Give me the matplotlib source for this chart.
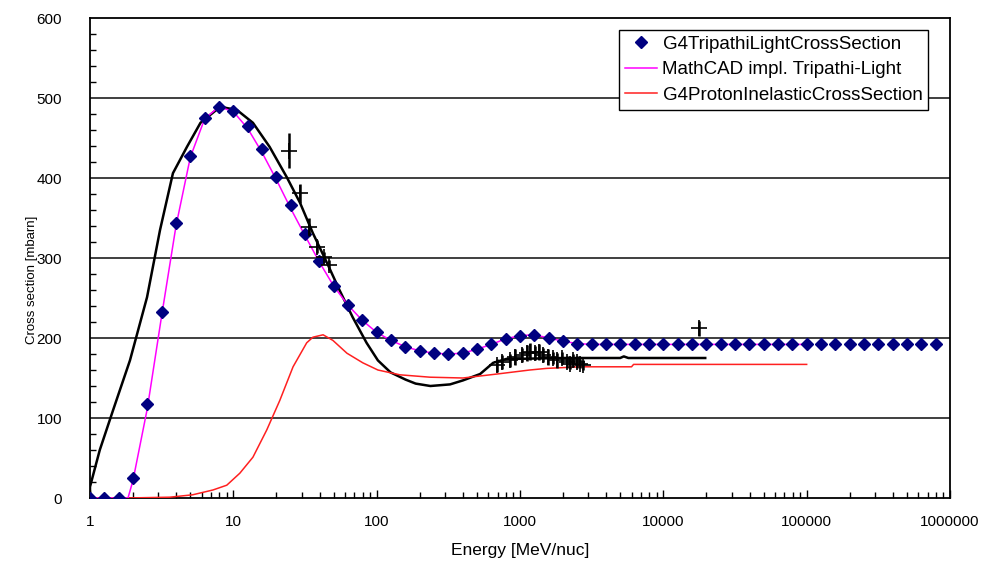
import numpy as np
import matplotlib.pyplot as plt
from matplotlib.ticker import MultipleLocator, LogLocator, NullFormatter, FixedLocator, FixedFormatter

plt.rcParams['font.family'] = ['Liberation Sans', 'DejaVu Sans']

# G4TripathiLightCrossSection, sampled every 0.1 decade from 1 MeV/nuc
trip_logE = [k / 10 for k in range(60)]
trip_xs = [0, 0, 0, 25, 117, 232, 344, 428, 475, 489,
           484, 465, 436, 401, 366, 330, 296, 265, 241, 222,
           207, 197, 189, 184, 181, 180, 181, 186, 192, 199,
           203, 204, 200, 196, 193, 192, 192, 192, 192, 192,
           192, 192, 192, 192, 192, 192, 192, 192, 192, 192,
           192, 192, 192, 192, 192, 192, 192, 192, 192, 192]

# MathCAD implementation of Tripathi-Light (onset point, then 0.1 decade grid)
mcad_logE = [0.0, 0.1, 0.2, 0.265] + [k / 10 for k in range(3, 51)]
mcad_xs = [0, 0, 0, 0, 22, 112, 228, 340, 426, 474, 489,
           483, 462, 432, 398, 362, 328, 295, 265, 241, 222,
           207, 197, 189, 184, 181, 180, 181, 186, 192, 199,
           203, 204, 200, 196, 193, 192, 192, 192, 192, 192,
           192, 192, 192, 192, 192, 192, 192, 192, 192, 192, 192]

# second model curve (black)
blk_E = [1.0, 1.0, 1.17, 1.45, 1.9, 2.5, 3.08, 3.79, 4.75, 5.9, 8.1, 10.6,
         13.7, 17.9, 23.6, 29.2, 35.9, 45, 55, 68, 85, 102, 125, 159, 187,
         237, 325, 400, 527, 650, 810, 1000, 2000, 5000, 5300, 5700, 10000,
         19600]
blk_xs = [0, 14, 60, 110, 172, 251, 335, 406, 439, 469, 489, 485,
          469, 439, 401, 369, 331, 294, 260, 226, 194, 172, 157, 148, 143,
          140, 142, 147, 155, 169, 174, 174, 175, 175, 177, 175, 175,
          175]

# G4ProtonInelasticCrossSection
red_E = [1.0, 1.81, 3.6, 5.2, 7.2, 9.0, 11.1, 13.7, 17.1, 21.1, 26.1, 32.5,
         35.9, 42.3, 49.5, 62, 80, 102, 145, 236, 400, 693, 1170, 1530,
         2630, 6000, 6200, 100000]
red_xs = [0, 0, 1, 4, 10, 16, 31, 51, 85, 122, 164, 194,
          201, 204, 197, 181, 169, 160, 154, 151, 150, 155, 160, 162,
          164, 164, 167, 167]

# measured points with error bars
exp_E = [24.5, 29.2, 33.8, 38.4, 43, 46.5, 693, 750, 853, 925, 1035, 1120,
         1175, 1274, 1350, 1450, 1570, 1700, 1820, 1960, 2130, 2230, 2350,
         2500, 2640, 2760, 17800]
exp_xs = [434, 381, 339, 314, 301, 291, 166, 170, 172, 176, 179, 181, 183,
          181, 182, 179, 176, 175, 172, 175, 170, 168, 172, 170, 168, 166,
          212]
exp_err = [22, 12, 11, 8, 6, 6, 8, 9, 8, 10, 9, 10, 11, 9, 10, 9, 10, 8,
           9, 8, 8, 7, 8, 7, 6, 6, 9]

fig = plt.figure(figsize=(9.85, 5.64), dpi=100)
ax = fig.add_axes([90 / 985, 1 - 498 / 564, 860 / 985, 480 / 564])

for yv in [100, 200, 300, 400, 500]:
    ax.axhline(yv, color='#303030', lw=1.3, zorder=1)

ax.plot(blk_E, blk_xs, color='black', lw=1.8, zorder=3)
ax.plot(red_E, red_xs, color='#ff2020', lw=1.1, zorder=3,
        label='G4ProtonInelasticCrossSection')
ax.plot(10 ** np.array(mcad_logE), mcad_xs, color='#ff00ff', lw=1.1, zorder=4,
        label='MathCAD impl. Tripathi-Light')
ax.plot(10 ** np.array(trip_logE), trip_xs, ls='none', marker='D',
        ms=6, color='#000080', zorder=5, label='G4TripathiLightCrossSection')
ax.errorbar(exp_E, exp_xs, yerr=exp_err, fmt='+', color='black', ms=12,
            mew=1.2, elinewidth=1.8, capsize=0, zorder=6)

ax.set_xscale('log')
ax.set_xlim(1, 1e6)
ax.set_ylim(0, 600)

ax.xaxis.set_major_locator(FixedLocator([1, 10, 100, 1000, 1e4, 1e5, 1e6]))
ax.xaxis.set_major_formatter(FixedFormatter(['1', '10', '100', '1000', '10000',
                                             '100000', '1000000']))
ax.xaxis.set_minor_locator(LogLocator(base=10, subs=np.arange(2, 10), numticks=20))
ax.xaxis.set_minor_formatter(NullFormatter())
ax.yaxis.set_major_locator(MultipleLocator(100))
ax.yaxis.set_minor_locator(MultipleLocator(20))

ax.tick_params(which='both', direction='in', labelsize=11, color='black')
ax.tick_params(axis='x', which='major', length=6, width=1, pad=12)
ax.tick_params(axis='x', which='minor', length=4, width=1)
ax.tick_params(axis='y', which='major', length=0, pad=20)
ax.tick_params(axis='y', which='minor', length=4, width=1)
for sp in ax.spines.values():
    sp.set_linewidth(1.3)
    sp.set_color('black')

ax.set_xlabel('Energy [MeV/nuc]', fontsize=12.5, labelpad=10)
fig.text(32 / 985, 1 - 280 / 564, 'Cross section [mbarn]', rotation=90,
         ha='center', va='center', fontsize=9.5)

h, l = ax.get_legend_handles_labels()
order = [2, 1, 0]
leg = ax.legend([h[i] for i in order], [l[i] for i in order],
                loc='upper right', bbox_to_anchor=(928 / 985, 1 - 30 / 564),
                bbox_transform=fig.transFigure, fontsize=13.5, frameon=True,
                fancybox=False, framealpha=1, edgecolor='black',
                handlelength=1.7, borderpad=0.3, labelspacing=0.45,
                handletextpad=0.3, borderaxespad=0)
leg.get_frame().set_linewidth(1.0)
leg.set_zorder(10)

fig.savefig('out.png', dpi=100)
